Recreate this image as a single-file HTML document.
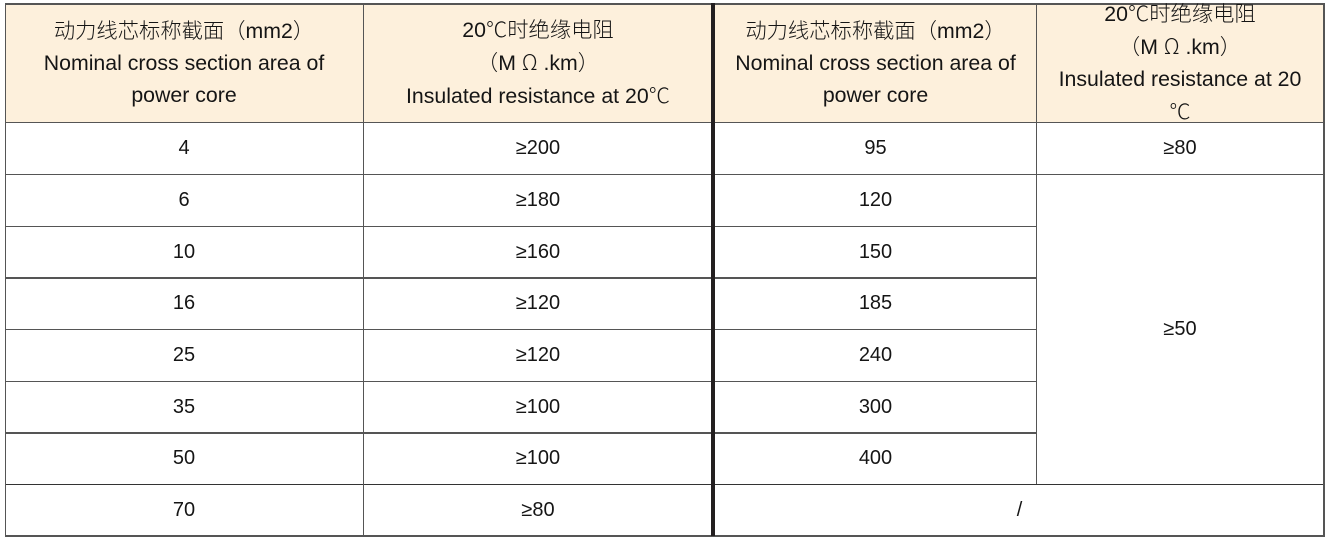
<!DOCTYPE html>
<html>
<head>
<meta charset="utf-8">
<style>
html,body{margin:0;padding:0;background:#fff;}
body{width:1328px;height:541px;position:relative;overflow:hidden;font-family:"Liberation Sans","Noto Sans CJK SC",sans-serif;color:#151515;}
.hbg{position:absolute;left:5px;top:3px;width:1319px;height:119px;background:#fdf0dc;}
.h{position:absolute;height:1.5px;background:#555;}
.v{position:absolute;width:1.5px;background:#555;}
.c{position:absolute;display:flex;align-items:center;justify-content:center;text-align:center;font-size:20px;line-height:32px;white-space:nowrap;}
.hd{font-size:21.3px;}
.zh{font-family:"Noto Sans CJK SC","Liberation Sans",sans-serif;font-weight:300;}
</style>
</head>
<body>
<div class="hbg"></div>

<!-- horizontal lines -->
<div class="h" style="left:5px;top:3px;width:1320px;"></div>
<div class="h" style="left:5px;top:121.5px;width:1320px;"></div>
<div class="h" style="left:5px;top:173.5px;width:1320px;"></div>
<div class="h" style="left:5px;top:225.5px;width:1031px;"></div>
<div class="h" style="left:5px;top:277px;width:1031px;"></div>
<div class="h" style="left:5px;top:328.5px;width:1031px;"></div>
<div class="h" style="left:5px;top:380.5px;width:1031px;"></div>
<div class="h" style="left:5px;top:432px;width:1031px;"></div>
<div class="h" style="left:5px;top:483.5px;width:1320px;background:#333;"></div>
<div class="h" style="left:5px;top:535px;width:1320px;"></div>

<!-- vertical lines -->
<div class="v" style="left:4.5px;top:3px;height:533px;"></div>
<div class="v" style="left:362.5px;top:3px;height:533px;"></div>
<div class="v" style="left:711px;top:3px;height:533px;width:4px;background:#231f20;"></div>
<div class="v" style="left:1035.5px;top:3px;height:481px;"></div>
<div class="v" style="left:1323px;top:3px;height:533px;"></div>

<!-- header -->
<div class="c hd" style="left:5px;top:3px;width:358px;height:119px;"><div><span class="zh">动力线芯标称截面（</span>mm2<span class="zh">）</span><br>Nominal cross section area of<br>power core</div></div>
<div class="c hd" style="left:363px;top:3px;width:350px;height:119px;"><div>20<span class="zh">℃时绝缘电阻</span><br><span class="zh">（</span>M <span class="zh">Ω</span> .km<span class="zh">）</span><br>Insulated resistance at 20<span class="zh">℃</span></div></div>
<div class="c hd" style="left:715px;top:3px;width:321px;height:119px;"><div><span class="zh">动力线芯标称截面（</span>mm2<span class="zh">）</span><br>Nominal cross section area of<br>power core</div></div>
<div class="c hd" style="left:1036px;top:3px;width:288px;height:119px;"><div>20<span class="zh">℃时绝缘电阻</span><br><span class="zh">（</span>M <span class="zh">Ω</span> .km<span class="zh">）</span><br>Insulated resistance at 20<br><span class="zh">℃</span></div></div>

<!-- rows col1 / col2 -->
<div class="c" style="left:5px;top:122px;width:358px;height:52px;">4</div>
<div class="c" style="left:363px;top:122px;width:350px;height:52px;">≥200</div>
<div class="c" style="left:5px;top:174px;width:358px;height:52px;">6</div>
<div class="c" style="left:363px;top:174px;width:350px;height:52px;">≥180</div>
<div class="c" style="left:5px;top:226px;width:358px;height:51px;">10</div>
<div class="c" style="left:363px;top:226px;width:350px;height:51px;">≥160</div>
<div class="c" style="left:5px;top:277px;width:358px;height:52px;">16</div>
<div class="c" style="left:363px;top:277px;width:350px;height:52px;">≥120</div>
<div class="c" style="left:5px;top:329px;width:358px;height:52px;">25</div>
<div class="c" style="left:363px;top:329px;width:350px;height:52px;">≥120</div>
<div class="c" style="left:5px;top:381px;width:358px;height:51px;">35</div>
<div class="c" style="left:363px;top:381px;width:350px;height:51px;">≥100</div>
<div class="c" style="left:5px;top:432px;width:358px;height:52px;">50</div>
<div class="c" style="left:363px;top:432px;width:350px;height:52px;">≥100</div>
<div class="c" style="left:5px;top:484px;width:358px;height:52px;">70</div>
<div class="c" style="left:363px;top:484px;width:350px;height:52px;">≥80</div>

<!-- rows col3 / col4 -->
<div class="c" style="left:715px;top:122px;width:321px;height:52px;">95</div>
<div class="c" style="left:1036px;top:122px;width:288px;height:52px;">≥80</div>
<div class="c" style="left:715px;top:174px;width:321px;height:52px;">120</div>
<div class="c" style="left:715px;top:226px;width:321px;height:51px;">150</div>
<div class="c" style="left:715px;top:277px;width:321px;height:52px;">185</div>
<div class="c" style="left:715px;top:329px;width:321px;height:52px;">240</div>
<div class="c" style="left:715px;top:381px;width:321px;height:51px;">300</div>
<div class="c" style="left:715px;top:432px;width:321px;height:52px;">400</div>
<div class="c" style="left:1036px;top:174px;width:288px;height:310px;">≥50</div>
<div class="c" style="left:715px;top:484px;width:609px;height:52px;">/</div>
</body>
</html>
